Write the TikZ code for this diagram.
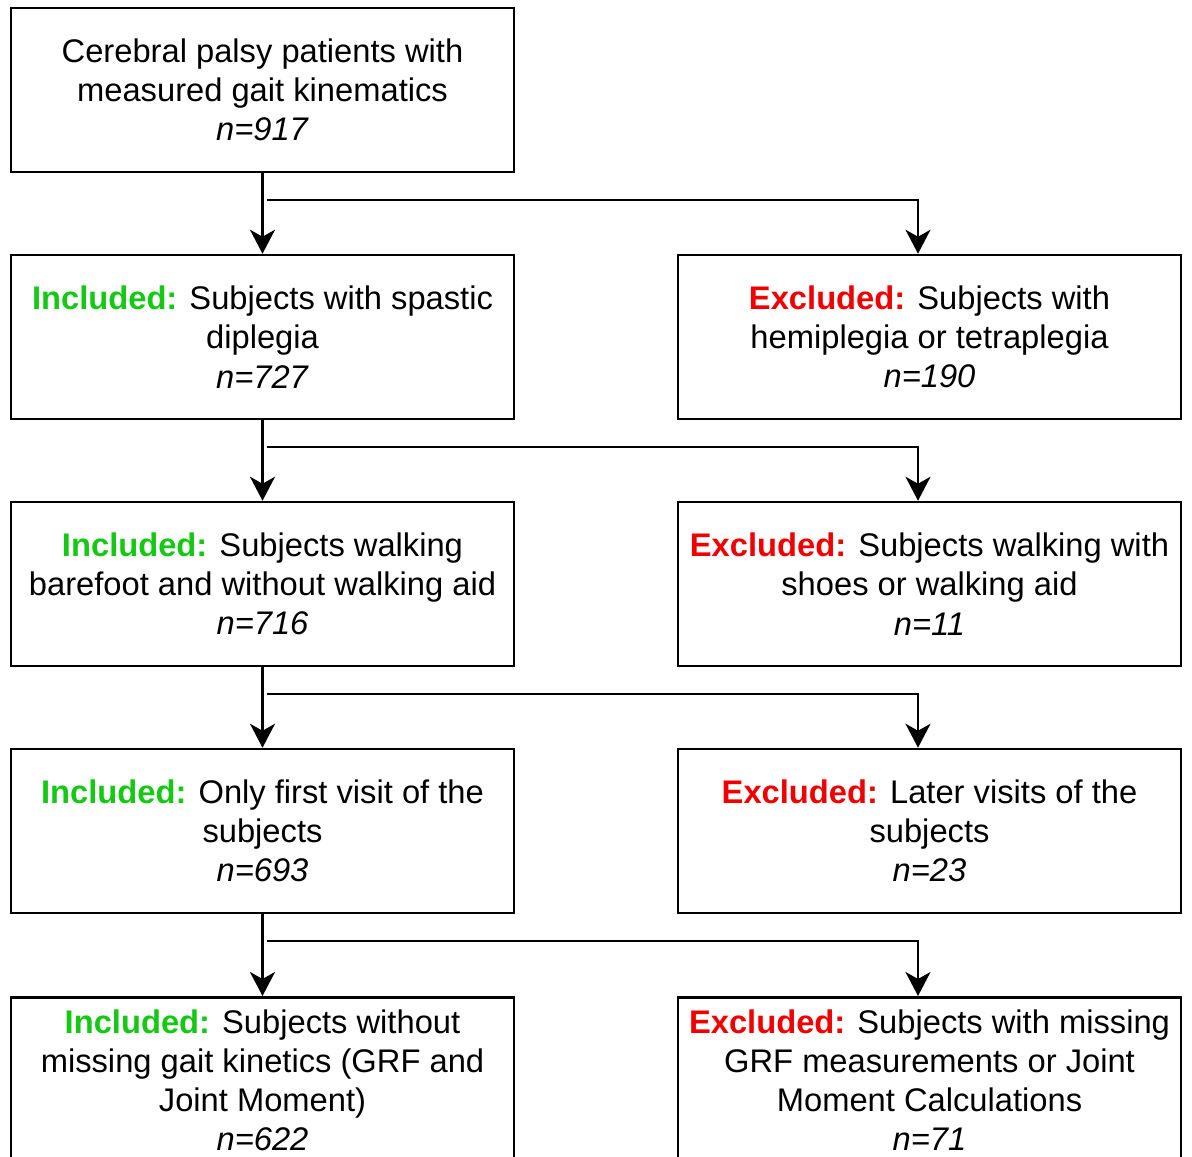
\documentclass[tikz,border=0pt]{standalone}
\usepackage{fontspec}
\setmainfont{Liberation Sans}
\usetikzlibrary{arrows.meta}
\definecolor{incgreen}{RGB}{20,200,20}
\definecolor{excred}{RGB}{240,0,0}
\newcommand{\inc}{\textcolor{incgreen}{\textbf{Included:}}}
\newcommand{\exc}{\textcolor{excred}{\textbf{Excluded:}}}
\begin{document}
\begin{tikzpicture}[x=0.5pt,y=-0.5pt,
  box/.style={draw=black, line width=1.25pt, minimum width=251.5pt, minimum height=82pt,
    align=center, inner sep=2pt, font=\fontsize{16.35}{19.6}\selectfont},
  arr/.style={line width=1.25pt, -{Stealth[length=12pt,width=12.5pt,inset=3.5pt]}},
  ln/.style={line width=1.25pt}]
\useasboundingbox (0,0) rectangle (1192,1156);
\node[box] (a0) at (262.5,90) {Cerebral palsy patients with\\measured gait kinematics\\\textit{n=917}};
\node[box] (a1) at (262.5,337) {\inc{} Subjects with spastic\\diplegia\\\textit{n=727}};
\node[box] (b1) at (929.5,337) {\exc{} Subjects with\\hemiplegia or tetraplegia\\\textit{n=190}};
\node[box] (a2) at (262.5,584) {\inc{} Subjects walking\\barefoot and without walking aid\\\textit{n=716}};
\node[box] (b2) at (929.5,584) {\exc{} Subjects walking with\\shoes or walking aid\\\textit{n=11}};
\node[box] (a3) at (262.5,831) {\inc{} Only first visit of the\\subjects\\\textit{n=693}};
\node[box] (b3) at (929.5,831) {\exc{} Later visits of the\\subjects\\\textit{n=23}};
\node[box, minimum height=83pt, anchor=north] (a4) at (262.5,996) {\inc{} Subjects without\\missing gait kinetics (GRF and\\Joint Moment)\\\textit{n=622}};
\node[box, minimum height=83pt, anchor=north] (b4) at (929.5,996) {\exc{} Subjects with missing\\GRF measurements or Joint\\Moment Calculations\\\textit{n=71}};
\foreach \u/\v/\w/\y in {a0/a1/b1/200, a1/a2/b2/447, a2/a3/b3/694, a3/a4/b4/941}{
  \draw[arr] (\u.south) -- (\v.north);
  \coordinate (h\u) at (267,\y);
  \draw[arr] (h\u) -| ([xshift=-5.75pt]\w.north);
}
\end{tikzpicture}
\end{document}
